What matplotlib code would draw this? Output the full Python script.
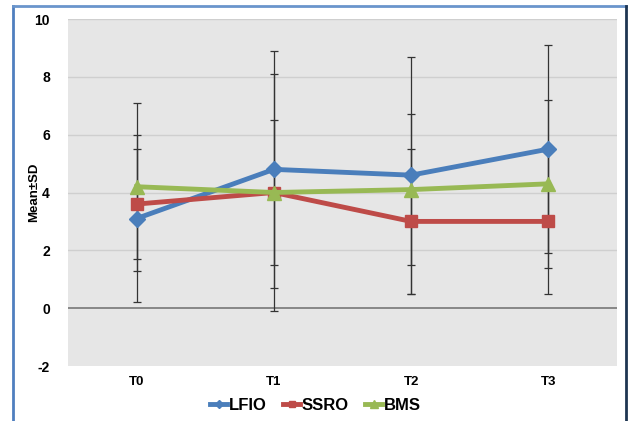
import matplotlib.pyplot as plt
from matplotlib.lines import Line2D

categories = ["T0", "T1", "T2", "T3"]
lfio_mean = [3.1, 4.8, 4.6, 5.5]
lfio_sd = [2.9, 4.1, 4.1, 3.6]
ssro_mean = [3.6, 4.0, 3.0, 3.0]
ssro_sd = [1.9, 2.5, 2.5, 2.5]
bms_mean = [4.2, 4.0, 4.1, 4.3]
bms_sd = [2.9, 4.1, 2.6, 2.9]
yticks = [-2, 0, 2, 4, 6, 8, 10]

plt.rcParams['font.family'] = ['Liberation Sans', 'DejaVu Sans']

fig = plt.figure(figsize=(6.31, 4.21), dpi=100)
fig.patch.set_facecolor("white")

# frame around the chart
fig.add_artist(Line2D([13/631, 13/631], [0, 1 - 6/421], transform=fig.transFigure,
                      color="#4f7fbf", lw=2))
fig.add_artist(Line2D([13/631, 626/631], [1 - 6/421, 1 - 6/421], transform=fig.transFigure,
                      color="#6a95cc", lw=2))
fig.add_artist(Line2D([626/631, 626/631], [0, 1 - 6/421], transform=fig.transFigure,
                      color="#1e3552", lw=2))

ax = fig.add_axes([68/631, 55/421, 549/631, 347/421])
ax.set_facecolor("#e6e6e6")
x = list(range(len(categories)))

series = [
    ("LFIO", lfio_mean, lfio_sd, "#4a7ebb", "D", 8),
    ("SSRO", ssro_mean, ssro_sd, "#be4b48", "s", 9),
    ("BMS", bms_mean, bms_sd, "#98b954", "^", 10),
]

for name, m, s, c, mk, ms in series:
    ax.errorbar(x, m, yerr=s, fmt="none", ecolor="#333333", elinewidth=0.9,
                capsize=3, capthick=0.9, zorder=2)

for name, m, s, c, mk, ms in series:
    ax.plot(x, m, color=c, lw=3.5, marker=mk, markersize=ms, label=name, zorder=3)

ax.set_xlim(-0.5, 3.5)
ax.set_ylim(-2, 10)
ax.set_yticks(yticks)
ax.set_yticklabels([str(v) for v in yticks], fontweight="bold", fontsize=10)
ax.set_xticks(x)
ax.set_xticklabels(categories, fontweight="bold", fontsize=9.5)
ax.tick_params(length=0, pad=7)
ax.tick_params(axis="y", pad=13)
for sp in ax.spines.values():
    sp.set_visible(False)
for v in [2, 4, 6, 8, 10]:
    ax.axhline(v, color="#cfcfcf", lw=1, zorder=1)
ax.axhline(0, color="#777777", lw=1.2, zorder=1)
ax.set_ylabel("Mean±SD", fontweight="bold", fontsize=9.5)
ax.yaxis.set_label_coords(-28/549, 0.5)

leg = fig.legend(loc="center", bbox_to_anchor=(0.5, 16/421), ncol=3, frameon=False,
                 prop={"weight": "bold", "size": 12}, handlelength=1.0,
                 handletextpad=0.1, columnspacing=1.0, markerscale=0.55)

fig.savefig("out.png", dpi=100)
